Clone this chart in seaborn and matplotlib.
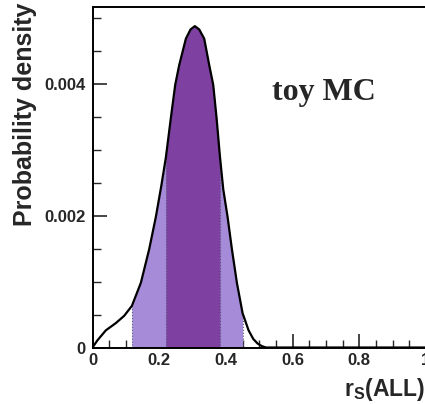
import numpy as np
import pandas as pd
import matplotlib
matplotlib.use("Agg")
import matplotlib.pyplot as plt
import seaborn as sns
from matplotlib.ticker import MultipleLocator

# values
r_s = [0.0, 0.015, 0.040, 0.070, 0.095, 0.118, 0.145, 0.170, 0.190, 0.207,
       0.220, 0.235, 0.248, 0.260, 0.280, 0.294, 0.307, 0.320, 0.335, 0.350,
       0.362, 0.372, 0.382, 0.392, 0.405, 0.418, 0.433, 0.450, 0.468, 0.482,
       0.495, 0.508, 0.520, 1.0]
density = [0.0, 0.00011, 0.00026, 0.00037, 0.00048, 0.00063, 0.00098, 0.00149,
           0.00198, 0.00247, 0.00288, 0.00348, 0.00398, 0.00428, 0.00468, 0.00482,
           0.00487, 0.00482, 0.00468, 0.00428, 0.00398, 0.00348, 0.00290, 0.00240,
           0.00198, 0.00149, 0.00098, 0.00052, 0.00026, 0.00013, 0.00006, 0.00002,
           0.0, 0.0]
band_95 = (0.118, 0.450)
band_68 = (0.220, 0.382)

df = pd.DataFrame({"r_s": r_s, "density": density})

sns.set_style("ticks")
plt.rcParams["font.family"] = ["Liberation Sans", "DejaVu Sans"]
plt.rcParams["font.weight"] = "bold"
plt.rcParams["mathtext.fontset"] = "custom"
plt.rcParams["mathtext.bf"] = "Liberation Sans:bold"
plt.rcParams["mathtext.rm"] = "Liberation Sans:bold"

light = "#a68cd8"
dark = "#7e41a1"

fig = plt.figure(figsize=(4.25, 4.04), dpi=100)
ax = fig.add_axes([92.5 / 425, 1 - 347.5 / 404, 333.5 / 425, 340.5 / 404])

x = df["r_s"].to_numpy()
y = df["density"].to_numpy()
ax.fill_between(x, y, where=(x >= band_95[0]) & (x <= band_95[1]),
                color=light, linewidth=0, interpolate=False)
ax.fill_between(x, y, where=(x >= band_68[0]) & (x <= band_68[1]),
                color=dark, linewidth=0, interpolate=False)
for edge in band_95 + band_68:
    ax.plot([edge, edge], [0, np.interp(edge, x, y)], color="#555577",
            linestyle=":", linewidth=0.8)

sns.lineplot(data=df, x="r_s", y="density", color="black", linewidth=1.6,
             ax=ax, legend=False)

ax.set_xlim(0, 1)
ax.set_ylim(0, 0.00516)
ax.xaxis.set_major_locator(MultipleLocator(0.2))
ax.xaxis.set_minor_locator(MultipleLocator(0.05))
ax.yaxis.set_major_locator(MultipleLocator(0.002))
ax.yaxis.set_minor_locator(MultipleLocator(0.0005))
ax.set_xticklabels([f"{v:g}" for v in ax.get_xticks()])
ax.set_yticks([0, 0.002, 0.004])
ax.set_yticklabels(["0", "0.002", "0.004"])
ax.tick_params(which="major", direction="in", length=10, width=1.2,
               labelsize=12, top=False, right=False)
ax.tick_params(which="minor", direction="in", length=6, width=1.0,
               top=False, right=False)
ax.tick_params(axis="y", pad=5)
ax.tick_params(axis="x", pad=4)
for lbl in ax.get_xticklabels() + ax.get_yticklabels():
    lbl.set_fontweight("bold")

for side in ["left", "bottom", "top"]:
    ax.spines[side].set_linewidth(1.4)
    ax.spines[side].set_color("black")
ax.spines["right"].set_visible(False)

ax.set_ylabel("Probability density", fontsize=18, fontweight="bold", loc="top")
ax.yaxis.set_label_coords(-0.166, 1.013)
ax.set_xlabel(r"$\mathbf{r_{S}(ALL)}$", fontsize=16.5, loc="right")
ax.xaxis.set_label_coords(0.997, -0.085)

ax.text(0.537, 0.727, "toy MC", transform=ax.transAxes, fontsize=23,
        fontweight="bold", family=["Liberation Serif", "DejaVu Serif"],
        ha="left", va="baseline")

fig.savefig("out.png", dpi=100)
